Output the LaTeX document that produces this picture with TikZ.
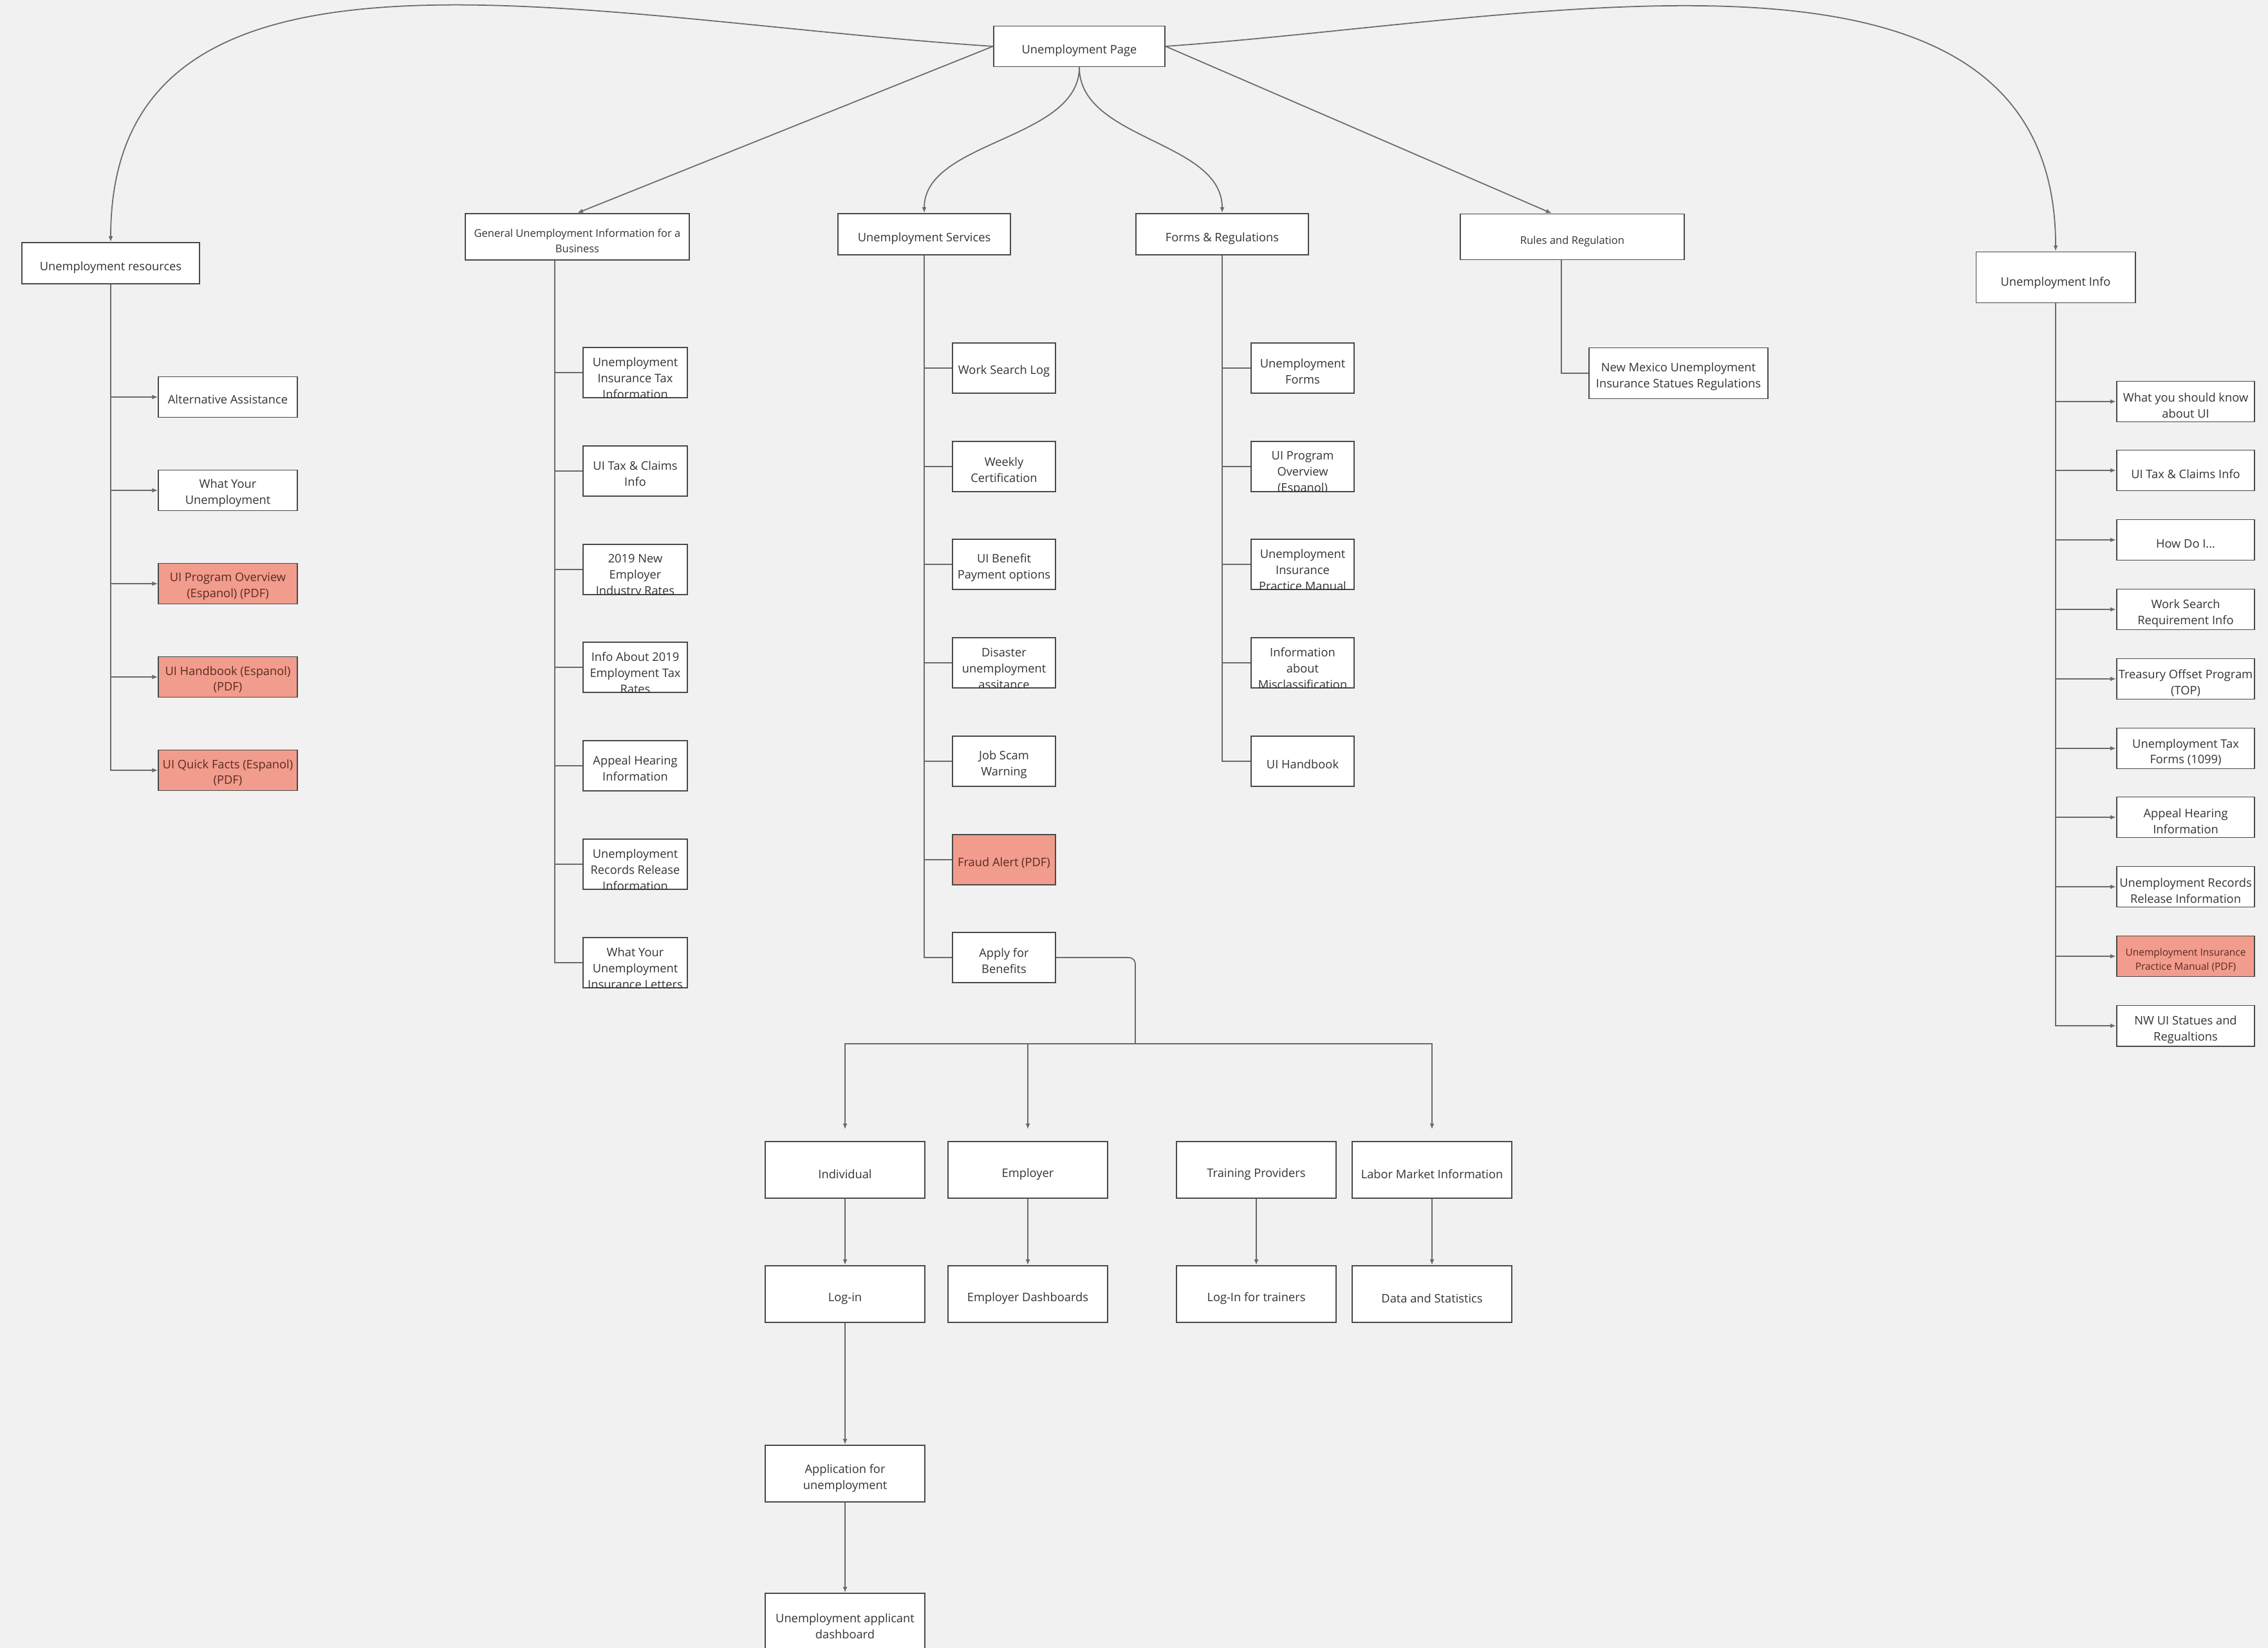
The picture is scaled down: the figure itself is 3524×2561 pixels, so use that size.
\documentclass[tikz,border=0pt]{standalone}
\usepackage{fontspec}
\setmainfont{Open Sans}
\usepackage{tikz}
\usetikzlibrary{arrows.meta}

\definecolor{paper}{HTML}{F1F1F1}
\definecolor{edge}{HTML}{4A4A4A}
\definecolor{wire}{HTML}{6A6A6A}
\definecolor{ink}{HTML}{333333}
\definecolor{salmon}{HTML}{F19C8C}
\definecolor{pdfink}{HTML}{5A2A22}

\tikzset{
  kid/.style={},
  box/.style={draw=edge, fill=white, line width=0.55pt, inner sep=0pt, text=ink,
    align=center, font=\fontsize{5.2}{7.1}\selectfont, kid},
  pdf/.style={box, fill=salmon, text=pdfink},
  pdfsm/.style={pdf, font=\fontsize{4.4}{6.2}\selectfont},
  headfont/.style={font=\fontsize{4.7}{6.7}\selectfont},
  low/.style={box, minimum width=2.48cm, minimum height=0.88cm},
  link/.style={draw=wire, line width=0.5pt},
  arr/.style={link, -{Latex[length=0.9mm, width=0.7mm]}},
}

% box with its text dropped a little and cut off at the frame
\newcommand{\kidbox}[6]{%
  \node[#1] (#2) at (#3,#4) {};
  \begin{scope}
    \clip (#2.south west) rectangle (#2.north east);
    \node[#1, draw=none, fill=none, minimum width=0pt, minimum height=0pt]
      (#2-t) at ([yshift=-#5]#2.center) {#6};
  \end{scope}}

\begin{document}
\begin{tikzpicture}[x=0.01cm, y=-0.01cm]
  \useasboundingbox (0,0) rectangle (3524,2561);
  \fill[paper] (0,0) rectangle (3524,2561);

  % top level
  \kidbox{box, minimum width=2.66cm, minimum height=0.63cm}{page}{1677}{72}{0.07cm}{Unemployment Page}
  \kidbox{box, minimum width=2.76cm, minimum height=0.64cm}{res}{172}{409}{0.07cm}{Unemployment resources}
  \kidbox{box, headfont, minimum width=3.47cm, minimum height=0.72cm}{biz}{897}{368}{0.06cm}{General Unemployment Information for a\\Business}
  \kidbox{box, minimum width=2.68cm, minimum height=0.64cm}{serv}{1436}{364}{0.07cm}{Unemployment Services}
  \kidbox{box, minimum width=2.67cm, minimum height=0.64cm}{forms}{1899}{364}{0.07cm}{Forms \& Regulations}
  \kidbox{box, headfont, minimum width=3.47cm, minimum height=0.71cm}{rules}{2443}{368}{0.07cm}{Rules and Regulation}
  \kidbox{box, minimum width=2.47cm, minimum height=0.79cm}{info}{3194}{431}{0.09cm}{Unemployment Info}

  \draw[arr] (page.west) .. controls (900,30) and (172,-150) .. (res.north);
  \draw[arr] (page.east) .. controls (2400,30) and (3194,-150) .. (info.north);
  \draw[arr] (page.west) -- (biz.north);
  \draw[arr] (page.east) -- ([xshift=-0.32cm]rules.north);
  \draw[arr] (page.south) .. controls (1677,218) and (1436,218) .. (serv.north);
  \draw[arr] (page.south) .. controls (1677,218) and (1899,218) .. (forms.north);

  % unemployment resources
  \begin{scope}[kid/.style={minimum width=2.15cm, minimum height=0.63cm}]
    \foreach \i/\s/\y/\t in {
        1/box/617/Alternative Assistance,
        2/box/762/What Your\\Unemployment,
        3/pdf/907/UI Program Overview\\(Espanol) (PDF),
        4/pdf/1052/UI Handbook (Espanol)\\(PDF),
        5/pdf/1197/UI Quick Facts (Espanol)\\(PDF)}{
      \kidbox{\s}{res\i}{354}{\y}{0.04cm}{\t}
      \draw[arr] (res.south) |- (res\i.west);
    }
  \end{scope}

  % business information
  \begin{scope}[kid/.style={minimum width=1.61cm, minimum height=0.78cm}]
    \foreach \i/\y/\d/\t in {
        1/579/0.09cm/Unemployment\\Insurance Tax\\Information,
        2/732/0.04cm/UI Tax \& Claims\\Info,
        3/885/0.1cm/2019 New\\Employer\\Industry Rates,
        4/1037/0.09cm/Info About 2019\\Employment Tax\\Rates,
        5/1190/0.04cm/Appeal Hearing\\Information,
        6/1343/0.09cm/Unemployment\\Records Release\\Information,
        7/1496/0.09cm/What Your\\Unemployment\\Insurance Letters}{
      \kidbox{box}{biz\i}{987}{\y}{\d}{\t}
      \draw[link] ([xshift=-0.35cm]biz.south) |- (biz\i.west);
    }
  \end{scope}

  % services
  \begin{scope}[kid/.style={minimum width=1.6cm, minimum height=0.78cm}]
    \foreach \i/\s/\y/\d/\t in {
        1/box/572/0.05cm/Work Search Log,
        2/box/725/0.05cm/Weekly\\Certification,
        3/box/877/0.05cm/UI Benefit\\Payment options,
        4/box/1030/0.09cm/Disaster\\unemployment\\assitance,
        5/box/1183/0.05cm/Job Scam\\Warning,
        6/pdf/1336/0.05cm/Fraud Alert (PDF),
        7/box/1488/0.05cm/Apply for\\Benefits}{
      \kidbox{\s}{serv\i}{1560}{\y}{\d}{\t}
      \draw[link] (serv.south) |- (serv\i.west);
    }
  \end{scope}

  % forms
  \begin{scope}[kid/.style={minimum width=1.6cm, minimum height=0.78cm}]
    \foreach \i/\y/\d/\t in {
        1/572/0.05cm/Unemployment\\Forms,
        2/725/0.1cm/UI Program\\Overview\\(Espanol),
        3/877/0.09cm/Unemployment\\Insurance\\Practice Manual,
        4/1030/0.09cm/Information\\about\\Misclassification,
        5/1183/0.05cm/UI Handbook}{
      \kidbox{box}{forms\i}{2024}{\y}{\d}{\t}
      \draw[link] (forms.south) |- (forms\i.west);
    }
  \end{scope}

  % rules
  \begin{scope}[kid/.style={minimum width=2.77cm, minimum height=0.79cm}]
    \kidbox{box}{rules1}{2608}{580}{0.05cm}{New Mexico Unemployment\\Insurance Statues Regulations}
    \draw[link] ([xshift=-0.17cm]rules.south) |- (rules1.west);
  \end{scope}

  % unemployment info
  \begin{scope}[kid/.style={minimum width=2.14cm, minimum height=0.63cm}]
    \foreach \i/\s/\y/\t in {
        1/box/624/What you should know\\about UI,
        2/box/731/UI Tax \& Claims Info,
        3/box/839/How Do I.{}..,
        4/box/947/Work Search\\Requirement Info,
        5/box/1055/Treasury Offset Program\\(TOP),
        6/box/1163/Unemployment Tax\\Forms (1099),
        7/box/1270/Appeal Hearing\\Information,
        8/box/1378/Unemployment Records\\Release Information,
        9/pdfsm/1486/Unemployment Insurance\\Practice Manual (PDF),
        10/box/1594/NW UI Statues and\\Regualtions}{
      \kidbox{\s}{info\i}{3396}{\y}{0.06cm}{\t}
      \draw[arr] (info.south) |- (info\i.west);
    }
  \end{scope}

  % apply for benefits
  \foreach \n/\x/\y/\t in {
      indiv/1313/1818/Individual,
      emp/1597/1818/Employer,
      train/1952/1818/Training Providers,
      labor/2225/1818/Labor Market Information,
      login/1313/2011/Log-in,
      empdash/1597/2011/Employer Dashboards,
      trainlog/1952/2011/Log-In for trainers,
      data/2225/2011/Data and Statistics,
      appl/1313/2290/Application for\\unemployment,
      dash/1313/2520/Unemployment applicant\\dashboard}
    \kidbox{low}{\n}{\x}{\y}{0.07cm}{\t};

  \coordinate (hub) at (1764,1622);
  \draw[link, rounded corners=0.1cm] (serv7.east) -| (hub);
  \foreach \n in {indiv, emp, labor}
    \draw[arr, shorten >=0.18cm] (hub) -| (\n.north);
  \foreach \a/\b in {indiv/login, emp/empdash, train/trainlog, labor/data, login/appl, appl/dash}
    \draw[arr] (\a) -- (\b);
\end{tikzpicture}
\end{document}
